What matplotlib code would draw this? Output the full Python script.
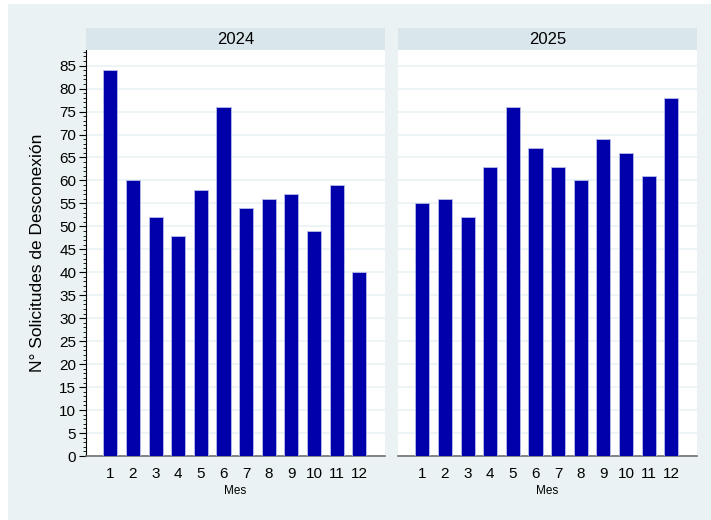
import matplotlib.pyplot as plt
from matplotlib.patches import Rectangle
from matplotlib.ticker import MultipleLocator

plt.rcParams['font.family'] = ['Liberation Sans', 'DejaVu Sans']

# monthly disconnection requests
meses = list(range(1, 13))
years = ['2024', '2025']
solicitudes_2024 = [84, 60, 52, 48, 58, 76, 54, 56, 57, 49, 59, 40]
solicitudes_2025 = [55, 56, 52, 63, 76, 67, 63, 60, 69, 66, 61, 78]
yticks = list(range(0, 90, 5))

bg = '#EAF2F3'
strip_col = '#D9E6EC'
bar_col = '#0000AA'

fig = plt.figure(figsize=(7.11, 5.2), dpi=100)
fig.patch.set_facecolor('white')
fig.patches.append(Rectangle((8 / 711, 0), 1, 1 - 4 / 520, transform=fig.transFigure,
                             facecolor=bg, edgecolor='none', zorder=-10))

W, H = 711, 520
bottom = 1 - 456 / H
height = (456 - 50) / H
width = 299 / W
lefts = [86 / W, 398 / W]

for i, (yr, vals) in enumerate(zip(years, [solicitudes_2024, solicitudes_2025])):
    ax = fig.add_axes([lefts[i], bottom, width, height])
    ax.set_facecolor('white')
    ax.bar(meses, vals, width=0.62, color=bar_col, edgecolor='#B8BCE8', linewidth=0.6, zorder=3)
    ax.set_xlim(-0.07, 13.13)
    ax.set_ylim(0, 88.4)
    ax.set_yticks(yticks)
    ax.yaxis.set_minor_locator(MultipleLocator(1))
    ax.grid(axis='y', color=bg, linewidth=1.2, zorder=0)
    ax.set_xticks(meses)
    ax.set_xticklabels([str(m) for m in meses], fontsize=11)
    ax.tick_params(axis='x', length=0, pad=8)
    for side in ['top', 'right']:
        ax.spines[side].set_visible(False)
    ax.spines['bottom'].set_color('#707070')
    ax.spines['bottom'].set_linewidth(1.2)
    ax.set_xlabel('Mes', fontsize=8.5, labelpad=3)
    if i == 0:
        ax.spines['left'].set_color('black')
        ax.tick_params(axis='y', which='major', length=5, labelsize=11, pad=2)
        ax.tick_params(axis='y', which='minor', length=2.5)
        ax.set_ylabel('N° Solicitudes de Desconexión', fontsize=12.5, labelpad=10)
    else:
        ax.spines['left'].set_visible(False)
        ax.tick_params(axis='y', which='both', length=0, labelleft=False)

    # strip title
    sax = fig.add_axes([lefts[i], 1 - 50 / H, width, 22 / H])
    sax.set_facecolor(strip_col)
    sax.set_xticks([])
    sax.set_yticks([])
    for s in sax.spines.values():
        s.set_visible(False)
    sax.text(0.5, 0.5, yr, ha='center', va='center', fontsize=12, transform=sax.transAxes)

fig.savefig('out.png', dpi=100, facecolor=fig.get_facecolor())
